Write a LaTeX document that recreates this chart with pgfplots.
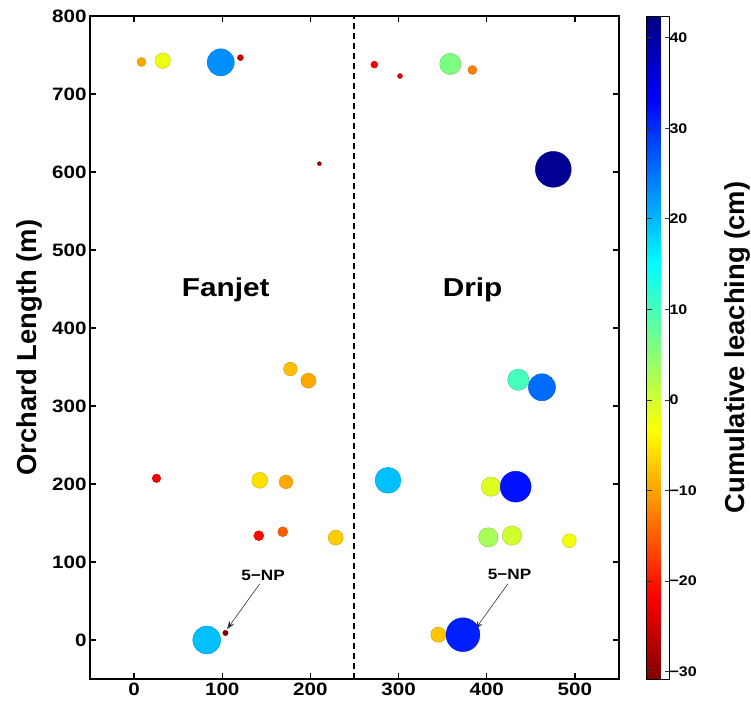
\documentclass[border=0pt]{standalone}
\usepackage{fontspec}
\setmainfont{Liberation Sans}[FakeStretch=1.15]
\newfontfamily\labelfont{Liberation Sans}
\usepackage{pgfplots}
\usepackage{pgfplotstable}
\pgfplotsset{compat=1.18}
\usetikzlibrary{arrows.meta}

\pgfplotstableread{
x y r v
8.4 741 4.5 -9.5
32.5 742.7 7.8 -2
98.3 740.6 13.6 23
120.6 746.6 3 -25
210.2 610.7 2 -30
177.3 347.4 6.8 -8
197.7 332.5 7.5 -9.5
25.4 207.3 4.3 -22
142.5 204.7 8 -5.5
172.3 202.6 6.8 -9.5
141.4 133.7 5 -21
168.6 138.8 5 -15
228.7 131.2 7.5 -7
82.4 0 14 19.5
103.6 9 2.7 -30
}\fanjet

\pgfplotstableread{
x y r v
272.5 737.6 3.5 -22
301.6 723 2.5 -23
358.7 738.5 10.7 6
383.7 730.8 4.5 -12.5
475.5 603.4 18 41
435.8 333.7 10.7 10
462.6 324 13.6 25.5
288 204.7 13 19.5
404.8 196.6 9.7 -1
432.8 196.6 15.5 32
401.8 131.6 9.7 3
428.6 133.8 9.7 0
493.7 127.3 7 -2.5
345.1 6.8 7.6 -7.5
373 6.8 17 31
}\drip

\begin{document}
\begin{tikzpicture}
\begin{axis}[
  at={(0,0)}, anchor=south west,
  scale only axis, width=529bp, height=663bp,
  xmin=-50, xmax=550, ymin=-50, ymax=800,
  xtick={0,100,...,500}, ytick={0,100,...,800},
  tick align=inside, major tick length=6bp,
  axis line style={line width=1.5bp},
  every tick/.style={black, line width=1.2bp},
  /pgf/number format/assume math mode=true,
  ticklabel style={font=\fontsize{18}{20}\selectfont\bfseries},
  ylabel={Orchard Length (m)},
  every axis y label/.style={at={([xshift=-60.5bp]axis description cs:0,0.5)}, anchor=center, rotate=90, font=\labelfont\fontsize{27.5}{30}\selectfont\bfseries},
  colormap={revjet}{rgb255(0cm)=(128,0,0) rgb255(1cm)=(255,0,0) rgb255(3cm)=(255,255,0) rgb255(5cm)=(0,255,255) rgb255(7cm)=(0,0,255) rgb255(8cm)=(0,0,128)},
  point meta min=-30.8, point meta max=42.4,
  colorbar,
  colorbar style={
    at={(parent axis.north east)}, anchor=north west, xshift=19bp,
    scale only axis=true, width=23bp, height=663bp,
    ytick={-30,-20,-10,0,10,20,30,40},
    yticklabels={−30,−20,−10,0,10,20,30,40},
    tick align=inside, major tick length=5bp,
    ytick pos=both, yticklabel pos=right,
    every tick/.style={black!80, line width=1bp},
    axis line style={line width=0.8bp},
    yticklabel style={font=\fontsize{14}{16}\selectfont\bfseries, xshift=-3.5bp},
    ylabel={Cumulative leaching (cm)},
    every axis y label/.style={at={([xshift=68bp]axis description cs:1,0.5)}, anchor=center, rotate=90, font=\labelfont\fontsize{27.5}{30}\selectfont\bfseries},
  },
  clip=false,
]
\addplot[black, line width=2bp, dash pattern=on 6bp off 4bp, forget plot] coordinates {(250,-50) (250,800)};
\addplot[scatter, only marks, mark=*, point meta=\thisrow{v},
  visualization depends on={\thisrow{r} \as \rad},
  scatter/@pre marker code/.append style={/tikz/mark size=\rad}] table[x=x,y=y] {\fanjet};
\addplot[scatter, only marks, mark=*, point meta=\thisrow{v},
  visualization depends on={\thisrow{r} \as \rad},
  scatter/@pre marker code/.append style={/tikz/mark size=\rad}] table[x=x,y=y] {\drip};
\node[font=\fontsize{26}{28}\selectfont\bfseries] at (axis cs:104,449) {Fanjet};
\node[font=\fontsize{26}{28}\selectfont\bfseries] at (axis cs:384,449) {Drip};
\node[font=\fontsize{15}{17}\selectfont\bfseries] at (axis cs:146.3,83.3) {5−NP};
\node[font=\fontsize{15}{17}\selectfont\bfseries] at (axis cs:425.9,84.2) {5−NP};
\draw[-{Stealth[length=8bp,width=6bp]}, black!80, line width=0.6bp] (axis cs:142.5,72) -- (axis cs:105.5,14);
\draw[-{Stealth[length=8bp,width=6bp]}, black!80, line width=0.6bp] (axis cs:424,72) -- (axis cs:387,14);
\end{axis}
\pgfresetboundingbox
\path[use as bounding box] (-90bp,-25bp) rectangle (661bp,679bp);
\end{tikzpicture}
\end{document}
